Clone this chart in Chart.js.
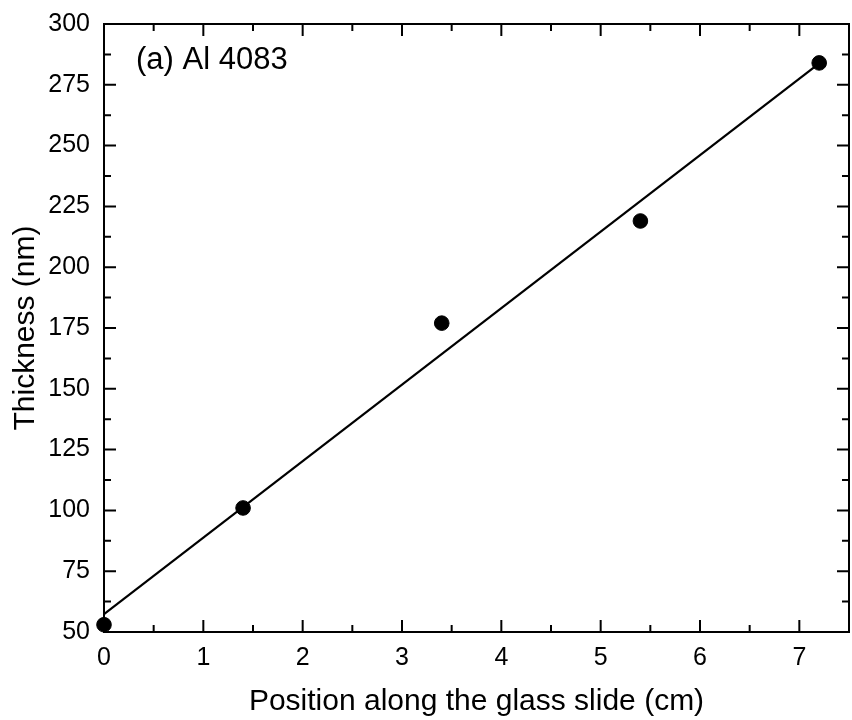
<!DOCTYPE html>
<html>
<head>
<meta charset="utf-8">
<title>Al 4083 thickness</title>
<script src="https://cdn.jsdelivr.net/npm/chart.js@4.4.1/dist/chart.umd.min.js"></script>
<style>
    html, body { margin: 0; padding: 0; background: #fff; }
</style>
</head>
<body>
<canvas id="thicknessChart" width="852" height="720"></canvas>
<script>
// ===== DATA =====
const positions = [0, 1.4, 3.4, 5.4, 7.2];          // cm
const thickness = [53, 101, 177, 219, 284];          // nm
const xTicks = [0, 1, 2, 3, 4, 5, 6, 7];
const xMinorTicks = [0.5, 1.5, 2.5, 3.5, 4.5, 5.5, 6.5, 7.5];
const yTicks = [50, 75, 100, 125, 150, 175, 200, 225, 250, 275, 300];
const yMinorTicks = [62.5, 87.5, 112.5, 137.5, 162.5, 187.5, 212.5, 237.5, 262.5, 287.5];
const panelLabel = "(a) Al 4083";

const FONT = "'Liberation Sans', Arial, sans-serif";

// ===== LINEAR FIT (least squares) =====
function linearFit(xs, ys) {
    const n = xs.length;
    const mx = xs.reduce((s, v) => s + v, 0) / n;
    const my = ys.reduce((s, v) => s + v, 0) / n;
    let sxy = 0, sxx = 0;
    xs.forEach((v, i) => {
        sxy += (v - mx) * (ys[i] - my);
        sxx += (v - mx) * (v - mx);
    });
    const slope = sxy / sxx;
    return { slope, intercept: my - slope * mx };
}

const fit = linearFit(positions, thickness);
const fitStart = positions[0];
const fitEnd = positions[positions.length - 1];

// keep the plot box where the layout padding puts it
function noScalePadding(scale) {
    scale.paddingTop = 0;
    scale.paddingBottom = 0;
    scale.paddingLeft = 0;
    scale.paddingRight = 0;
}

// ===== FRAME + INWARD TICKS =====
const frameTicks = {
    id: "frameTicks",
    beforeDatasetsDraw(chart) {
        const { ctx, chartArea: a, scales: { x, y } } = chart;
        ctx.save();
        ctx.strokeStyle = "#000";
        ctx.lineWidth = 2;
        ctx.strokeRect(a.left, a.top, a.right - a.left, a.bottom - a.top);

        ctx.beginPath();
        const xMark = (v, len) => {
            const px = x.getPixelForValue(v);
            ctx.moveTo(px, a.bottom); ctx.lineTo(px, a.bottom - len);
            ctx.moveTo(px, a.top); ctx.lineTo(px, a.top + len);
        };
        const yMark = (v, len) => {
            const py = y.getPixelForValue(v);
            ctx.moveTo(a.left, py); ctx.lineTo(a.left + len, py);
            ctx.moveTo(a.right, py); ctx.lineTo(a.right - len, py);
        };
        xTicks.forEach(v => xMark(v, 12));
        xMinorTicks.forEach(v => xMark(v, 7));
        yTicks.forEach(v => yMark(v, 12));
        yMinorTicks.forEach(v => yMark(v, 7));
        ctx.stroke();
        ctx.restore();
    },
    afterDatasetsDraw(chart) {
        const { ctx, chartArea: a } = chart;
        ctx.save();
        ctx.fillStyle = "#000";
        ctx.font = "31px " + FONT;
        ctx.textBaseline = "middle";
        ctx.textAlign = "left";
        ctx.fillText(panelLabel, a.left + 32, a.top + 36);
        ctx.restore();
    }
};

// ===== CHART =====
function initChart() {
    const ctx = document.getElementById("thicknessChart");

    new Chart(ctx, {
        type: "scatter",
        data: {
            datasets: [
                {
                    label: "Measured",
                    data: positions.map((p, i) => ({ x: p, y: thickness[i] })),
                    backgroundColor: "#000",
                    borderColor: "#000",
                    pointRadius: 7.3,
                    pointHoverRadius: 7.3,
                    clip: false,
                    order: 1
                },
                {
                    label: "Linear fit",
                    type: "line",
                    data: [
                        { x: fitStart, y: fit.intercept + fit.slope * fitStart },
                        { x: fitEnd, y: fit.intercept + fit.slope * fitEnd }
                    ],
                    borderColor: "#000",
                    borderWidth: 2.2,
                    pointRadius: 0,
                    fill: false,
                    order: 2
                }
            ]
        },
        options: {
            responsive: false,
            animation: false,
            layout: { autoPadding: false, padding: { left: 0, right: 3, top: 24, bottom: 0 } },
            plugins: {
                legend: { display: false },
                tooltip: { enabled: false }
            },
            scales: {
                x: {
                    type: "linear",
                    min: 0,
                    max: 7.5,
                    grid: { display: false, drawTicks: false },
                    border: { display: false },
                    afterBuildTicks: scale => { scale.ticks = xTicks.map(v => ({ value: v })); },
                    afterFit: scale => { scale.height = 88; noScalePadding(scale); },
                    ticks: {
                        color: "#000",
                        padding: 11,
                        maxRotation: 0,
                        font: { family: FONT, size: 25 }
                    },
                    title: {
                        display: true,
                        text: "Position along the glass slide (cm)",
                        color: "#000",
                        padding: { top: 0, bottom: 0 },
                        font: { family: FONT, size: 30 }
                    }
                },
                y: {
                    type: "linear",
                    min: 50,
                    max: 300,
                    grid: { display: false, drawTicks: false },
                    border: { display: false },
                    afterBuildTicks: scale => { scale.ticks = yTicks.map(v => ({ value: v })); },
                    afterFit: scale => { scale.width = 104; noScalePadding(scale); },
                    ticks: {
                        color: "#000",
                        padding: 14,
                        font: { family: FONT, size: 25 }
                    },
                    title: {
                        display: true,
                        text: "Thickness (nm)",
                        color: "#000",
                        padding: { top: 8, bottom: 0 },
                        font: { family: FONT, size: 30 }
                    }
                }
            }
        },
        plugins: [frameTicks]
    });
}

// ===== INIT AFTER LOAD =====
document.addEventListener("DOMContentLoaded", initChart);
</script>
</body>
</html>
